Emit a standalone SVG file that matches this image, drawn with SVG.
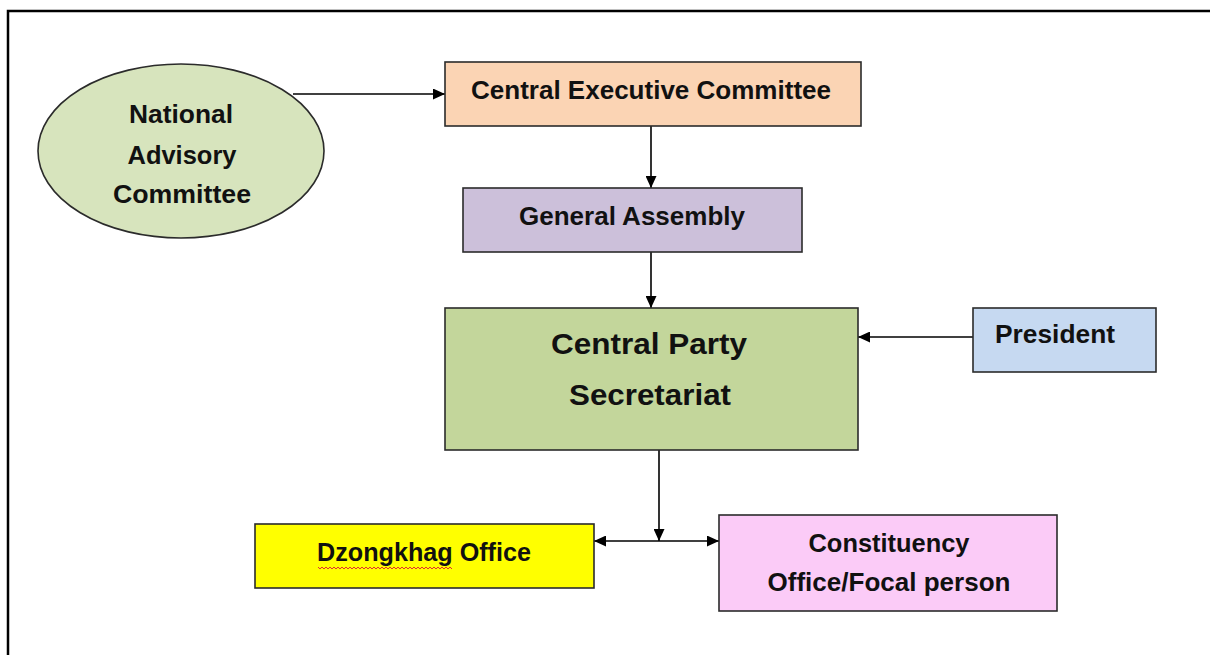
<svg xmlns="http://www.w3.org/2000/svg" width="1210" height="655" viewBox="0 0 1210 655">
<style>
.box{stroke:#2b2b2b;stroke-width:1.6}
.t{font-family:"Liberation Sans",Arial,sans-serif;font-weight:bold;fill:#111;text-anchor:middle;font-size:25px}
.big{font-size:30px}
.c{stroke:#000;stroke-width:1.6;fill:none}
</style>
<defs>
<marker id="ah" viewBox="0 0 10 10" refX="10" refY="5" markerWidth="12" markerHeight="11" markerUnits="userSpaceOnUse" orient="auto-start-reverse" preserveAspectRatio="none">
<path d="M0,0 L10,5 L0,10 z" fill="#000"/>
</marker>
</defs>
<rect width="1210" height="655" fill="#fff"/>
<path d="M8,655 V11 H1210" fill="none" stroke="#000" stroke-width="2.5"/>
<g id="connectors">
<line class="c" x1="293" y1="94" x2="445" y2="94" marker-end="url(#ah)"/>
<line class="c" x1="651" y1="126" x2="651" y2="188" marker-end="url(#ah)"/>
<line class="c" x1="651" y1="252" x2="651" y2="308" marker-end="url(#ah)"/>
<line class="c" x1="973" y1="337" x2="858" y2="337" marker-end="url(#ah)"/>
<line class="c" x1="659" y1="450" x2="659" y2="541" marker-end="url(#ah)"/>
<line class="c" x1="594" y1="541" x2="719" y2="541" marker-start="url(#ah)" marker-end="url(#ah)"/>
</g>
<g id="national-advisory">
<ellipse class="box" cx="181" cy="151" rx="143" ry="87" fill="#D7E4BD"/>
<text class="t" x="181" y="123" textLength="104" lengthAdjust="spacingAndGlyphs">National</text>
<text class="t" x="182" y="164" textLength="109" lengthAdjust="spacingAndGlyphs">Advisory</text>
<text class="t" x="182" y="203" textLength="138" lengthAdjust="spacingAndGlyphs">Committee</text>
</g>
<g id="central-executive">
<rect class="box" x="445" y="62" width="416" height="64" fill="#FBD4B4"/>
<text class="t" x="651" y="99" textLength="360" lengthAdjust="spacingAndGlyphs">Central Executive Committee</text>
</g>
<g id="general-assembly">
<rect class="box" x="463" y="188" width="339" height="64" fill="#CCC0DA"/>
<text class="t" x="632" y="225" textLength="226" lengthAdjust="spacingAndGlyphs">General Assembly</text>
</g>
<g id="central-party">
<rect class="box" x="445" y="308" width="413" height="142" fill="#C3D69B"/>
<text class="t big" x="649" y="354" textLength="196" lengthAdjust="spacingAndGlyphs">Central Party</text>
<text class="t big" x="650" y="405" textLength="162" lengthAdjust="spacingAndGlyphs">Secretariat</text>
</g>
<g id="president">
<rect class="box" x="973" y="308" width="183" height="64" fill="#C6D9F1"/>
<text class="t" x="1055" y="343" textLength="120" lengthAdjust="spacingAndGlyphs">President</text>
</g>
<g id="dzongkhag">
<rect class="box" x="255" y="524" width="339" height="64" fill="#FFFF00"/>
<text class="t" x="424" y="561" textLength="214" lengthAdjust="spacingAndGlyphs">Dzongkhag Office</text>
<polyline points="318,567 320,569 322,567 324,569 326,567 328,569 330,567 332,569 334,567 336,569 338,567 340,569 342,567 344,569 346,567 348,569 350,567 352,569 354,567 356,569 358,567 360,569 362,567 364,569 366,567 368,569 370,567 372,569 374,567 376,569 378,567 380,569 382,567 384,569 386,567 388,569 390,567 392,569 394,567 396,569 398,567 400,569 402,567 404,569 406,567 408,569 410,567 412,569 414,567 416,569 418,567 420,569 422,567 424,569 426,567 428,569 430,567 432,569 434,567 436,569 438,567 440,569 442,567 444,569 446,567 448,569 450,567 452,569" fill="none" stroke="#e03030" stroke-width="1"/>
</g>
<g id="constituency">
<rect class="box" x="719" y="515" width="338" height="96" fill="#FBCBF7"/>
<text class="t" x="889" y="552" textLength="161" lengthAdjust="spacingAndGlyphs">Constituency</text>
<text class="t" x="889" y="591" textLength="243" lengthAdjust="spacingAndGlyphs">Office/Focal person</text>
</g>
</svg>
